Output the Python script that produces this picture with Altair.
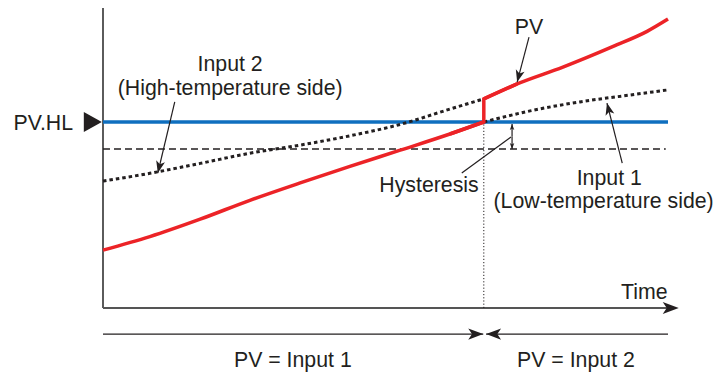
import math
import altair as alt
import pandas as pd

# ---------------- values (time 0..100, value 0..100) --------------
t_before = [0, 8.3, 17.2, 26.0, 34.9, 43.7, 52.6, 61.4, 67.4]
pv_before = [19.3, 23.8, 29.6, 35.9, 41.7, 47.2, 52.6, 58.0, 62.0]
input2_before = [42.3, 44.9, 48.2, 51.6, 54.3, 57.4, 61.2, 66.3, 69.7]
t_after = [67.4, 73.3, 81.4, 90.3, 96.3, 100]
pv_after = [69.7, 74.7, 80.3, 87.2, 92.2, 96.3]
t_input1 = [67.4, 75.6, 84.4, 93.3, 100]
input1_after = [62.0, 65.7, 68.7, 71.0, 72.7]

switch_time = 67.4
pv_hl = 62.0
hyst_low = 53.0
time_end = 100.0
axis_top = 100.0
time_axis_tip = 101.9

label_text = ["Input 2", "(High-temperature side)", "PV.HL", "PV", "Hysteresis",
              "Input 1", "(Low-temperature side)", "Time", "PV = Input 1", "PV = Input 2"]
label_t = [22.5, 22.5, -5.3, 75.4, 57.7, 89.6, 88.6, 95.8, 33.6, 83.7]
label_v = [79.0, 71.0, 59.3, 91.3, 38.7, 41.0, 33.3, 3.0, -19.7, -19.7]
label_align = ["center", "center", "right", "center", "center",
               "center", "center", "center", "center", "center"]

# annotation arrows: start (t, v) -> tip (t, v)
arrow_from_t = [12.7, 75.4, 91.9, 72.4, 72.4]
arrow_from_v = [68.7, 90.3, 48.3, 57.2, 57.2]
arrow_to_t = [9.7, 73.3, 89.2, 72.4, 72.4]
arrow_to_v = [45.0, 75.3, 68.3, 61.3, 53.0]
arrow_head = [144, 144, 144, 36, 36]

leader_from = (63.5, 45.0)
leader_to = (72.2, 57.0)

span_v = -8.7
span1 = (0.0, 67.3)
span2 = (100.0, 67.8)

# ---------------- scales ----------------
W, H = 707, 364
x_dom = [-16.814, 108.319]
y_dom = [-21.333, 100.0]
px_t = W / (x_dom[1] - x_dom[0])
px_v = H / (y_dom[1] - y_dom[0])
xs = alt.Scale(domain=x_dom, nice=False, zero=False)
ys = alt.Scale(domain=y_dom, nice=False, zero=False)

INK = "#231f20"
RED = "#ec2327"
BLUE = "#0f6fbf"
FONT = "Liberation Sans"
FS = 21.3
HEAD = "M0,0L-2,-0.75L-1.5,0L-2,0.75Z"


def ang(t1, v1, t2, v2):
    dx = (t2 - t1) * px_t
    dy = -(v2 - v1) * px_v
    return math.degrees(math.atan2(dy, dx)) % 360


def X(f="t"):
    return alt.X(f"{f}:Q", scale=xs, axis=None)


def Y(f="v"):
    return alt.Y(f"{f}:Q", scale=ys, axis=None)


layers = []

# axes
layers.append(alt.Chart(pd.DataFrame({"t": [0], "v": [0], "v2": [axis_top]}))
              .mark_rule(color="#333333", strokeWidth=1.6)
              .encode(x=X(), y=Y(), y2="v2"))
layers.append(alt.Chart(pd.DataFrame({"t": [0], "t2": [time_axis_tip - 1], "v": [0]}))
              .mark_rule(color="#555555", strokeWidth=2)
              .encode(x=X(), x2="t2", y=Y()))

# hysteresis dashed line and switch dotted line
layers.append(alt.Chart(pd.DataFrame({"t": [0], "t2": [99.6], "v": [hyst_low]}))
              .mark_rule(color=INK, strokeWidth=1.3, strokeDash=[7, 4])
              .encode(x=X(), x2="t2", y=Y()))
layers.append(alt.Chart(pd.DataFrame({"t": [switch_time], "v": [0], "v2": [pv_hl]}))
              .mark_rule(color=INK, strokeWidth=1, strokeDash=[1.2, 2])
              .encode(x=X(), y=Y(), y2="v2"))

# PV.HL blue line
layers.append(alt.Chart(pd.DataFrame({"t": [0], "t2": [time_end], "v": [pv_hl]}))
              .mark_rule(color=BLUE, strokeWidth=3.5)
              .encode(x=X(), x2="t2", y=Y()))

# dotted inputs
in2 = pd.DataFrame({"t": t_before, "v": input2_before, "i": range(len(t_before))})
in1 = pd.DataFrame({"t": t_input1, "v": input1_after, "i": range(len(t_input1))})
for d in (in2, in1):
    layers.append(alt.Chart(d).mark_line(color=INK, strokeWidth=3, strokeDash=[3.5, 3], interpolate="monotone")
                  .encode(x=X(), y=Y(), order="i:Q"))

# PV red line: two smooth pieces plus the vertical jump with sharp corners
pv1 = pd.DataFrame({"t": t_before, "v": pv_before, "i": range(len(t_before))})
pv2 = pd.DataFrame({"t": t_after, "v": pv_after, "i": range(len(t_after))})
for d in (pv1, pv2):
    layers.append(alt.Chart(d).mark_line(color=RED, strokeWidth=3.5, interpolate="monotone")
                  .encode(x=X(), y=Y(), order="i:Q"))
jump = pd.DataFrame({"t": [t_before[-2], switch_time, switch_time, t_after[1]],
                     "v": [pv_before[-2], pv_hl, pv_after[0], pv_after[1]], "i": range(4)})
layers.append(alt.Chart(jump).mark_line(color=RED, strokeWidth=3.5, strokeJoin="miter")
              .encode(x=X(), y=Y(), order="i:Q"))

# annotation arrow shafts
shafts = pd.DataFrame({"t": arrow_from_t + [leader_from[0], span1[0], span2[0]],
                       "v": arrow_from_v + [leader_from[1], span_v, span_v],
                       "t2": arrow_to_t + [leader_to[0], span1[1], span2[1]],
                       "v2": arrow_to_v + [leader_to[1], span_v, span_v]})
layers.append(alt.Chart(shafts).mark_rule(color=INK, strokeWidth=1.2)
              .encode(x=X(), y=Y(), x2="t2", y2="v2"))

# arrow heads
heads = pd.DataFrame({
    "t": arrow_to_t + [span1[1], span2[1], time_axis_tip],
    "v": arrow_to_v + [span_v, span_v, 0],
    "a": [ang(a, b, c, d) for a, b, c, d in zip(arrow_from_t, arrow_from_v, arrow_to_t, arrow_to_v)]
         + [ang(span1[0], span_v, span1[1], span_v), ang(span2[0], span_v, span2[1], span_v), 0.0],
    "s": arrow_head + [225, 225, 256],
})
layers.append(alt.Chart(heads).mark_point(shape=HEAD, filled=True, opacity=1, color=INK, strokeWidth=0)
              .encode(x=X(), y=Y(), angle=alt.Angle("a:Q", scale=None), size=alt.Size("s:Q", scale=None)))

# PV.HL marker triangle
layers.append(alt.Chart(pd.DataFrame({"t": [-1.8], "v": [pv_hl]}))
              .mark_point(shape="M-0.9,-1L0.9,0L-0.9,1Z", filled=True, opacity=1, color=INK,
                          strokeWidth=0, size=400)
              .encode(x=X(), y=Y()))

# labels
lab = pd.DataFrame({"txt": label_text, "t": label_t, "v": label_v, "al": label_align})
for al in ("center", "right"):
    layers.append(alt.Chart(lab[lab.al == al]).mark_text(font=FONT, fontSize=FS, color=INK, align=al,
                                                          baseline="alphabetic")
                  .encode(x=X(), y=Y(), text="txt:N"))

chart = (alt.layer(*layers)
         .properties(width=W, height=H, padding=0, autosize=alt.AutoSizeParams(type="none"),
                     background="white")
         .configure_view(strokeWidth=0))

chart.save("out.html", embed_options={"renderer": "svg", "actions": False})
